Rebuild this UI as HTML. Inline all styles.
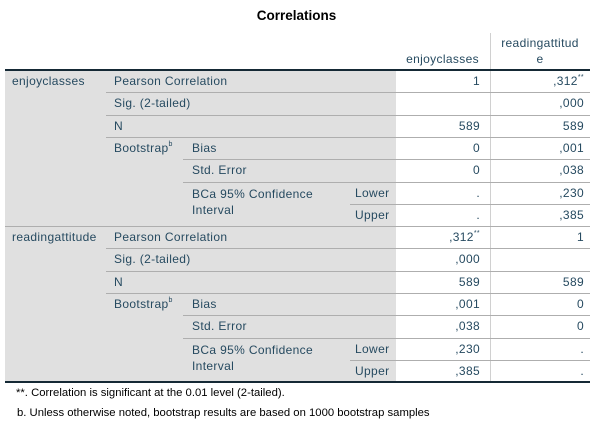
<!DOCTYPE html>
<html><head><meta charset="utf-8"><style>
body{margin:0;width:593px;height:433px;background:#fff;font-family:"Liberation Sans",Arial,sans-serif;font-size:12px;color:#264a60;position:relative;overflow:hidden}
div{position:absolute;box-sizing:border-box}
.t{white-space:nowrap;line-height:14px;letter-spacing:0.35px}
.r{text-align:right}
.hl{height:1px;background:#aeaeae}
sup{font-size:7px;vertical-align:top;position:relative;top:-3px}
.fn{letter-spacing:0;font-size:11.3px}
</style></head><body>
<div class="t" style="left:0;width:593px;top:9px;text-align:center;font-weight:bold;font-size:13.5px;color:#000;letter-spacing:0">Correlations</div>
<div class="t r" style="left:396px;width:83px;top:52px">enjoyclasses</div>
<div class="t" style="left:490px;width:100px;top:35px;text-align:center;white-space:normal;line-height:16px">readingattitud<br>e</div>
<div style="left:490px;top:33px;width:1px;height:37px;background:#d0d0d0"></div>
<div style="left:5px;top:70px;width:391px;height:312px;background:#e0e0e0"></div>
<div style="left:490px;top:70px;width:1px;height:312px;background:#d0d0d0"></div>
<div style="left:5px;top:69px;width:585px;height:2px;background:#152935"></div>
<div style="left:5px;top:381px;width:585px;height:2px;background:#152935"></div>
<div class="t fn" style="left:16px;top:386px;color:#000">**. Correlation is significant at the 0.01 level (2-tailed).</div>
<div class="t fn" style="left:17px;top:406px;color:#000">b. Unless otherwise noted, bootstrap results are based on 1000 bootstrap samples</div>
<script>
const vars=['enjoyclasses','readingattitude'];
const sec1c1=['1','','589','0','0','.','.'];
const sec1c2=[',312**',',000','589',',001',',038',',230',',385'];
const sec2c1=[',312**',',000','589',',001',',038',',230',',385'];
const sec2c2=['1','','589','0','0','.','.'];
const rh=22.3, top0=70;
const host=document.body;
function mk(cls,style,html){const d=document.createElement('div');d.className=cls;d.style.cssText=style;d.innerHTML=html||'';host.appendChild(d);return d;}
function fmt(v){return v.replace('**','<sup>**</sup>');}
vars.forEach((v,s)=>{
  const y0=top0+s*7*rh;
  const c1=s?sec2c1:sec1c1, c2=s?sec2c2:sec1c2;
  let e=mk('t',`left:12px;top:${y0+4}px`,v);
  
  
  const labels=['Pearson Correlation','Sig. (2-tailed)','N'];
  labels.forEach((l,i)=>{e=mk('t',`left:114px;top:${y0+i*rh+4}px`,l);
    
    });
  e=mk('t',`left:114px;top:${y0+3*rh+4}px`,'Bootstrap<sup>b</sup>');
  
  
  ['Bias','Std. Error'].forEach((l,i)=>{e=mk('t',`left:192px;top:${y0+(3+i)*rh+4}px`,l);
    
    });
  e=mk('t',`left:192px;top:${y0+5*rh+4}px;line-height:16px`,'BCa 95% Confidence<br>Interval');
  
  
  ['Lower','Upper'].forEach((l,i)=>{e=mk('t',`left:355px;top:${y0+(5+i)*rh+4}px`,l);
    
    });
  for(let i=0;i<7;i++){
    const y=y0+i*rh;
    e=mk('t r',`left:396px;width:84px;top:${y+4}px`,fmt(c1[i]));
    
    
    e=mk('t r',`left:490px;width:94px;top:${y+4}px`,fmt(c2[i]));
    
    
    if(i>0){
      const x=i<=3?106:(i<=5?183:350);
      e=mk('hl',`left:${x}px;top:${Math.round(y)}px;width:${590-x}px`);
      
      
    }
  }
  if(s==1){e=mk('hl',`left:5px;top:${Math.round(y0)}px;width:585px`);
    
    }
});
</script>
</body></html>
